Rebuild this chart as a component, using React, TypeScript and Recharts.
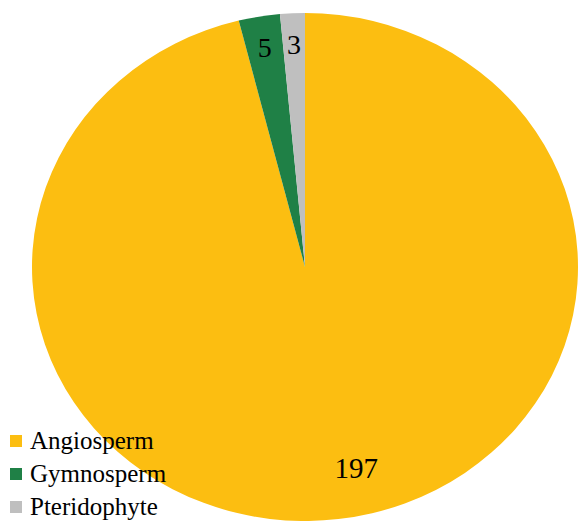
import { Cell, Pie, PieChart } from "recharts";

const categories = ["Angiosperm", "Gymnosperm", "Pteridophyte"];
const counts = [197, 5, 3];
const colors = ["#FCBE11", "#1F8046", "#BFBFBF"];

const data = categories.map((name, i) => ({ name, value: counts[i] }));

// the original pie is a little squashed vertically
const SCALE_Y = 0.9304;
const RAD = Math.PI / 180;
const FONT = '"Liberation Serif", "Times New Roman", serif';

function renderLabel(props: any) {
  const { cx, cy, midAngle, outerRadius, index, value } = props;
  // big slice label sits a bit off its mid angle, like in the source
  const angle = midAngle + (index === 0 ? 6.3 : 0);
  const r = outerRadius * (index === 0 ? 0.813 : 0.878);
  const x = cx + r * Math.cos(-angle * RAD);
  const y = cy + r * Math.sin(-angle * RAD);
  return (
    <text
      transform={`translate(${x},${y}) scale(1,${1 / SCALE_Y})`}
      textAnchor="middle"
      dominantBaseline="central"
      fill="#000"
      fontFamily={FONT}
      fontSize={index === 0 ? 29 : 28}
    >
      {value}
    </text>
  );
}

export default function App() {
  return (
    <div
      style={{
        position: "absolute",
        top: 0,
        left: 0,
        width: 578,
        height: 521,
        overflow: "hidden",
        background: "#fff",
      }}
    >
      <div
        style={{
          position: "absolute",
          top: 0,
          left: 0,
          transform: `scaleY(${SCALE_Y})`,
          transformOrigin: "top left",
        }}
      >
        <PieChart width={578} height={560} margin={{ top: 0, right: 0, bottom: 0, left: 0 }}>
          <Pie
            data={data}
            dataKey="value"
            nameKey="name"
            cx={305}
            cy={287}
            outerRadius={273}
            startAngle={90}
            endAngle={-270}
            stroke="none"
            label={renderLabel}
            labelLine={false}
            isAnimationActive={false}
          >
            {data.map((d, i) => (
              <Cell key={d.name} fill={colors[i]} />
            ))}
          </Pie>
        </PieChart>
      </div>
      <div
        style={{
          position: "absolute",
          left: 10,
          top: 424,
          fontFamily: FONT,
          fontSize: 25,
          lineHeight: "33px",
          color: "#000",
        }}
      >
        {categories.map((name, i) => (
          <div key={name} style={{ display: "flex", alignItems: "center" }}>
            <span
              style={{
                width: 12,
                height: 12,
                background: colors[i],
                marginRight: 8,
                display: "inline-block",
              }}
            />
            <span>{name}</span>
          </div>
        ))}
      </div>
    </div>
  );
}
